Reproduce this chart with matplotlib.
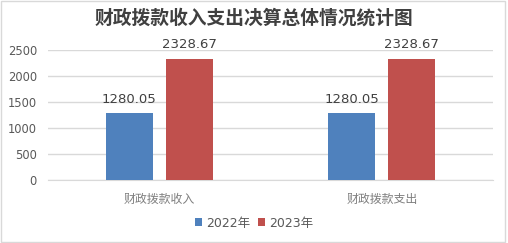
import matplotlib
matplotlib.use("Agg")
import matplotlib.pyplot as plt
from matplotlib.patches import Rectangle

plt.rcParams['font.family'] = ['Noto Sans CJK SC', 'DejaVu Sans']

categories = ['财政拨款收入', '财政拨款支出']
series_names = ['2022年', '2023年']
v2022 = [1280.05, 1280.05]
v2023 = [2328.67, 2328.67]
colors = ['#4F81BD', '#C0504D']
yticks = [0, 500, 1000, 1500, 2000, 2500]

fig = plt.figure(figsize=(5.08, 2.43), dpi=100)
ax = fig.add_axes([0.0945, 0.259, 0.876, 0.535])

x = range(len(categories))
w = 0.21
off = 0.135
b1 = ax.bar([i - off for i in x], v2022, w, color=colors[0], label=series_names[0], zorder=3)
b2 = ax.bar([i + off for i in x], v2023, w, color=colors[1], label=series_names[1], zorder=3)

for bars, vals in ((b1, v2022), (b2, v2023)):
    for b, v in zip(bars, vals):
        ax.text(b.get_x() + b.get_width() / 2, v + 150, f'{v:.2f}', ha='center', va='bottom',
                fontsize=9.5, color='#404040', family='DejaVu Sans', clip_on=False)

ax.set_xlim(-0.5, 1.5)
ax.set_ylim(0, 2500)
ax.set_yticks(yticks)
ax.set_yticklabels([str(t) for t in yticks], family='DejaVu Sans', fontsize=8.3, color='#595959')
ax.set_xticks(list(x))
ax.set_xticklabels(categories, fontsize=8.6, color='#7f7f7f')
ax.tick_params(length=0)
ax.tick_params(axis='x', pad=9)
ax.tick_params(axis='y', pad=8)
ax.grid(axis='y', color='#d9d9d9', linewidth=1, zorder=0)
for s in ['top', 'right', 'left']:
    ax.spines[s].set_visible(False)
ax.spines['bottom'].set_color('#d9d9d9')

fig.text(0.5, 0.925, '财政拨款收入支出决算总体情况统计图', ha='center', va='center',
         fontsize=13.5, fontweight='bold', color='#404040')

leg = fig.legend(loc='center', bbox_to_anchor=(0.5, 0.082), ncol=2, frameon=False,
                 handlelength=0.6, handleheight=0.6, handletextpad=0.3, columnspacing=0.6,
                 prop={'family': ['DejaVu Sans', 'Noto Sans CJK SC'], 'size': 9})
for t in leg.get_texts():
    t.set_color('#595959')

fig.patches.append(Rectangle((0.002, 0.004), 0.992, 0.992, transform=fig.transFigure,
                             fill=False, edgecolor='#d9d9d9', linewidth=1))

fig.savefig('out.png', dpi=100)
